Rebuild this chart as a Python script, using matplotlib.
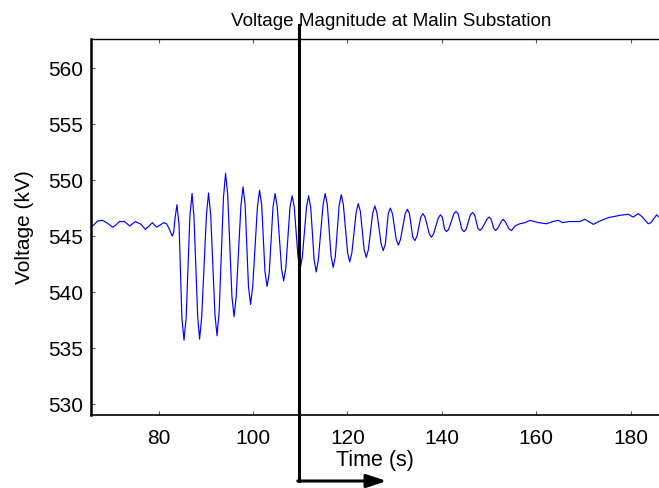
import matplotlib
matplotlib.use('Agg')
import matplotlib.pyplot as plt
import matplotlib.transforms as mtransforms
import numpy as np

# values (time in s, voltage in kV)
time_pre = [65.6, 66.3, 67.1, 68.2, 69.0, 70.3, 71.0, 71.7, 72.8, 73.9, 75.1, 76.3,
            77.2, 78.0, 78.7, 79.6, 80.4, 81.1, 81.7, 82.2, 82.9, 83.2]
volt_pre = [545.8, 546.0, 546.35, 546.4, 546.2, 545.8, 546.0, 546.3, 546.3, 545.9, 546.3, 546.05,
            545.6, 545.9, 546.2, 545.8, 546.0, 546.2, 546.1, 545.7, 545.0, 545.3]

time_osc = [83.5, 83.9, 84.35, 84.95, 85.4, 85.85, 86.65, 87.1, 87.5, 88.3, 88.7, 89.15,
            90.15, 90.6, 91.05, 91.95, 92.4, 92.85, 93.75, 94.2, 94.65, 95.55, 96.0, 96.45,
            97.45, 97.9, 98.35, 99.05, 99.5, 99.95, 100.95, 101.4, 101.85, 102.55, 103.0, 103.45,
            104.25, 104.7, 105.15, 106.05, 106.5, 106.95, 107.85, 108.3, 108.75, 109.55, 110.0, 110.45,
            111.35, 111.8, 112.25, 112.95, 113.4, 113.85, 114.85, 115.3, 115.75, 116.55, 117.0, 117.45,
            118.25, 118.7, 119.15, 120.05, 120.5, 120.95, 121.85, 122.3, 122.75, 123.55, 124.0, 124.45,
            125.35, 125.8, 126.25, 127.15, 127.6, 128.05, 128.65, 129.1, 129.55, 130.35, 130.8, 131.25,
            132.25, 132.7, 133.15, 133.85, 134.3, 134.75, 135.55, 136.0, 136.45, 137.35, 137.8, 138.25,
            139.25, 139.7, 140.1, 140.6, 141.0, 141.45, 142.55, 143.0, 143.45, 144.25, 144.7, 145.15,
            146.05, 146.5, 146.95, 147.65, 148.1, 148.55, 149.55, 150.0, 150.45, 151.0, 151.4, 151.85,
            152.6, 153.0, 153.4, 154.3, 154.8]
volt_osc = [546.6, 547.8, 546.0, 537.7, 535.7, 537.7, 546.8, 548.8, 546.8, 537.8, 535.8, 537.8,
            546.9, 548.85, 546.9, 538.0, 536.1, 538.3, 548.4, 550.6, 548.7, 539.6, 537.8, 539.6,
            547.7, 549.4, 547.8, 540.5, 538.9, 540.5, 547.6, 549.1, 547.8, 541.8, 540.5, 541.7,
            547.6, 548.8, 547.6, 542.1, 541.0, 542.1, 547.6, 548.6, 547.6, 543.1, 542.1, 543.1,
            547.6, 548.6, 547.5, 542.9, 541.8, 542.9, 547.8, 548.8, 547.8, 543.2, 542.2, 543.2,
            547.7, 548.7, 547.8, 543.5, 542.7, 543.5, 547.1, 547.9, 547.2, 543.8, 543.1, 543.8,
            547.0, 547.7, 547.1, 544.3, 543.7, 544.3, 547.0, 547.5, 547.0, 544.7, 544.2, 544.7,
            547.0, 547.4, 547.0, 544.9, 544.6, 545.0, 546.7, 547.0, 546.7, 545.2, 544.9, 545.2,
            546.6, 546.9, 546.7, 545.6, 545.4, 545.6, 547.0, 547.2, 547.0, 545.6, 545.4, 545.6,
            546.9, 547.1, 546.9, 545.7, 545.5, 545.7, 546.5, 546.7, 546.5, 545.7, 545.5, 545.7,
            546.3, 546.5, 546.3, 545.6, 545.5]

time_post = [155.5, 156.5, 157.6, 158.7, 160.5, 162.2, 163.5, 164.7, 165.6, 167.0, 169.2, 170.3,
             172.1, 173.5, 175.3, 177.7, 179.5, 180.5, 181.6, 182.5, 183.7, 184.3, 185.5, 186.0]
volt_post = [545.9, 546.1, 546.2, 546.4, 546.2, 546.1, 546.3, 546.4, 546.2, 546.3, 546.3, 546.5,
             546.05, 546.35, 546.65, 546.85, 546.95, 546.7, 547.0, 546.7, 546.1, 546.2, 546.9, 546.7]

x_ticks = [80, 100, 120, 140, 160, 180]
y_ticks = [530, 535, 540, 545, 550, 555, 560]

# time marked by the arrow
t_mark = 109.7
t_arrow_end = 128.3

time = np.array(time_pre + time_osc + time_post)
volt = np.array(volt_pre + volt_osc + volt_post)

plt.rcParams['font.family'] = ['Liberation Sans', 'DejaVu Sans']

fig = plt.figure(figsize=(6.59, 4.88), dpi=100)
ax = fig.add_axes([91/659, 1 - 414.7/488, 1 - 91/659, (414.7 - 39)/488])

ax.plot(time, volt, color=(0, 0, 1), linewidth=0.85)

ax.set_xlim(65.7, 186.0)
ax.set_ylim(529.05, 562.6)
ax.set_xticks(x_ticks)
ax.set_yticks(y_ticks)
ax.tick_params(direction='in', length=3, width=0.8, color='0.35', top=True, right=False,
               labelsize=15)
ax.tick_params(axis='x', pad=10)
ax.tick_params(axis='y', pad=6)
ax.spines['right'].set_visible(False)
ax.spines['left'].set_linewidth(1.8)
ax.spines['bottom'].set_linewidth(1.2)
ax.spines['top'].set_linewidth(1.0)

ax.set_title('Voltage Magnitude at Malin Substation', fontsize=13.6, x=0.528, pad=9)
ax.set_xlabel('Time (s)', fontsize=15.5, labelpad=2)
ax.set_ylabel('Voltage (kV)', fontsize=15, labelpad=10)

# vertical marker line with an arrow at the bottom
trans = mtransforms.blended_transform_factory(ax.transData, ax.transAxes)
ax.plot([t_mark, t_mark], [1.037, -0.1765], color='black', linewidth=2.2,
        transform=trans, clip_on=False)
ax.annotate('', xy=(t_arrow_end, -0.1765), xytext=(t_mark - 0.2, -0.1765),
            xycoords=trans, textcoords=trans,
            arrowprops=dict(arrowstyle='-|>,head_length=1.2,head_width=0.4',
                            color='black', lw=2.2, shrinkA=0, shrinkB=0))

fig.savefig('out.png', dpi=100)
